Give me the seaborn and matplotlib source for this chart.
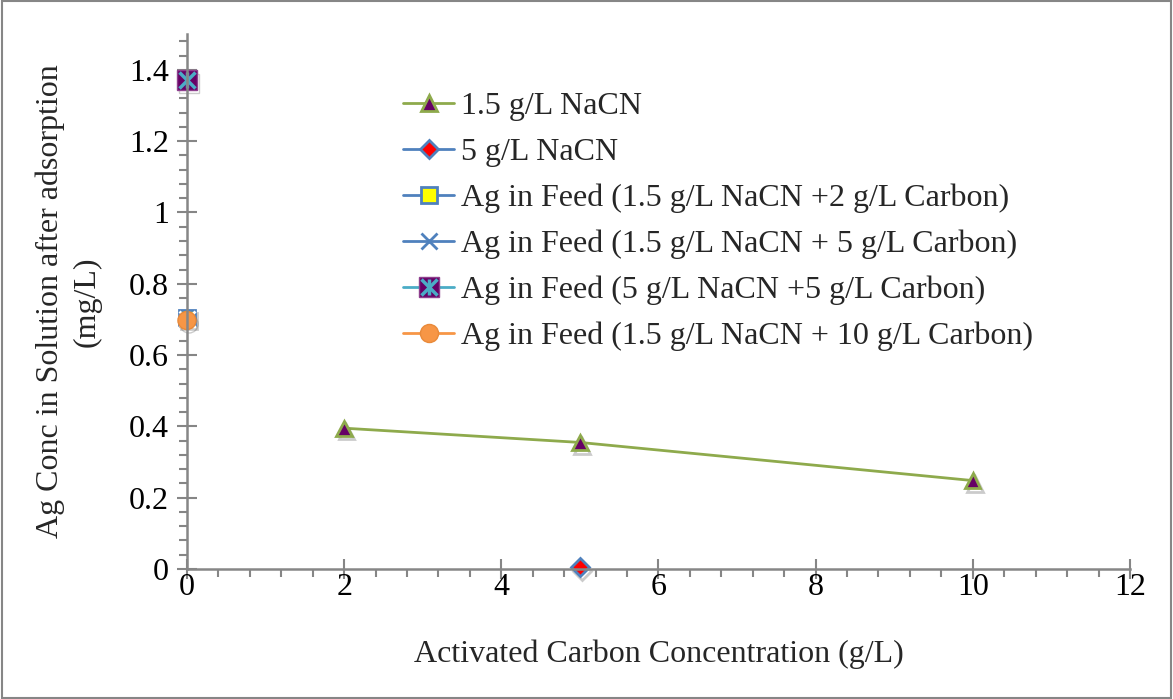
import matplotlib
matplotlib.use("Agg")
import matplotlib.pyplot as plt
import matplotlib.patheffects as pe
from matplotlib.lines import Line2D
from matplotlib.ticker import MultipleLocator, FormatStrFormatter
import seaborn as sns

# series
carbon_15 = [2, 5, 10]
conc_15 = [0.395, 0.355, 0.248]
carbon_5 = [5]
conc_5 = [0.005]
feed_x = [0]
feed_15_2 = [0.705]
feed_15_5 = [0.700]
feed_5_5 = [1.372]
feed_15_10 = [0.697]

labels = [
    "1.5 g/L NaCN",
    "5 g/L NaCN",
    "Ag in Feed (1.5 g/L NaCN +2 g/L Carbon)",
    "Ag in Feed (1.5 g/L NaCN + 5 g/L Carbon)",
    "Ag in Feed (5 g/L NaCN +5 g/L Carbon)",
    "Ag in Feed (1.5 g/L NaCN + 10 g/L Carbon)",
]

green = "#8EAA4C"
blue = "#4F81BD"
teal = "#4BACC6"
orange = "#F79646"
purple = "#660066"
FS = 23

sns.set_style("white")
plt.rcParams["font.family"] = ["Liberation Serif", "DejaVu Serif"]

fig = plt.figure(figsize=(11.73, 6.99), dpi=100)
ax = fig.add_axes([0.1594, 0.186, 0.8039, 0.765])

shadow = [pe.SimpleLineShadow(offset=(1.5, -2.5), shadow_color="#555555", alpha=0.3), pe.Normal()]

# the line alone, then markers with a soft shadow
sns.lineplot(x=carbon_15, y=conc_15, ax=ax, color=green, lw=2, legend=False)
sns.lineplot(x=carbon_15, y=conc_15, ax=ax, ls="none", marker="^", ms=11,
             markerfacecolor=purple, markeredgecolor=green, markeredgewidth=2,
             path_effects=shadow, clip_on=False, legend=False)
sns.lineplot(x=carbon_5, y=conc_5, ax=ax, ls="none", marker="D", ms=9,
             markerfacecolor="red", markeredgecolor=blue, markeredgewidth=2,
             path_effects=shadow, clip_on=False, legend=False)
sns.lineplot(x=feed_x, y=feed_15_2, ax=ax, ls="none", marker="s", ms=11,
             markerfacecolor="yellow", markeredgecolor=blue, markeredgewidth=2,
             path_effects=shadow, clip_on=False, legend=False)
sns.lineplot(x=feed_x, y=feed_15_5, ax=ax, ls="none", color=blue, marker="x", ms=11,
             markeredgewidth=2, clip_on=False, legend=False)
sns.lineplot(x=feed_x, y=feed_5_5, ax=ax, ls="none", marker="s", ms=14,
             markerfacecolor=purple, markeredgecolor="#8E3F8E", markeredgewidth=1,
             path_effects=shadow, clip_on=False, legend=False)
ax.plot(feed_x, feed_5_5, ls="none", marker="x", ms=11, mew=2.5, color=teal, clip_on=False)
ax.plot(feed_x, feed_5_5, ls="none", marker="|", ms=11, mew=2.5, color=teal, clip_on=False)
sns.lineplot(x=feed_x, y=feed_15_10, ax=ax, ls="none", marker="o", ms=13,
             markerfacecolor=orange, markeredgecolor="#E98A3A", markeredgewidth=1,
             path_effects=shadow, clip_on=False, legend=False)

ax.set_xlim(0, 12)
ax.set_ylim(0, 1.5)
ax.xaxis.set_major_locator(MultipleLocator(2))
ax.xaxis.set_minor_locator(MultipleLocator(0.4))
ax.yaxis.set_major_locator(MultipleLocator(0.2))
ax.yaxis.set_minor_locator(MultipleLocator(0.04))
ax.xaxis.set_major_formatter(FormatStrFormatter("%g"))
ax.yaxis.set_major_formatter(FormatStrFormatter("%g"))

for s in ["top", "right"]:
    ax.spines[s].set_visible(False)
for s in ["left", "bottom"]:
    ax.spines[s].set_color("#868686")
    ax.spines[s].set_linewidth(1.8)
ax.tick_params(which="major", direction="inout", length=14, width=1.5, color="#868686",
               labelsize=FS, bottom=True, left=True)
ax.tick_params(which="minor", direction="out", length=6, width=1.5, color="#868686",
               bottom=True, left=True)
ax.tick_params(axis="x", which="major", pad=-4)
ax.tick_params(axis="y", which="major", pad=6)
for lab in ax.get_xticklabels() + ax.get_yticklabels():
    lab.set_color("black")

ax.set_xlabel("Activated Carbon Concentration (g/L)", fontsize=FS, labelpad=27)
ax.set_ylabel("Ag Conc in Solution after adsorption\n(mg/L)", fontsize=FS, labelpad=20,
              linespacing=1.3)

handles = [
    Line2D([], [], color=green, lw=2, marker="^", ms=11, markerfacecolor=purple,
           markeredgecolor=green, markeredgewidth=2),
    Line2D([], [], color=blue, lw=2, marker="D", ms=9, markerfacecolor="red",
           markeredgecolor=blue, markeredgewidth=2),
    Line2D([], [], color=blue, lw=2, marker="s", ms=11, markerfacecolor="yellow",
           markeredgecolor=blue, markeredgewidth=2),
    Line2D([], [], color=blue, lw=2, marker="x", ms=11, markeredgewidth=2),
    (Line2D([], [], color=teal, lw=2, marker="s", ms=14, markerfacecolor=purple,
            markeredgecolor="#8E3F8E", markeredgewidth=1),
     Line2D([], [], ls="none", marker="x", ms=11, mew=2.5, color=teal),
     Line2D([], [], ls="none", marker="|", ms=11, mew=2.5, color=teal)),
    Line2D([], [], color=orange, lw=2, marker="o", ms=13, markerfacecolor=orange,
           markeredgecolor="#E98A3A", markeredgewidth=1),
]
fig.legend(handles, labels, loc="upper left", bbox_to_anchor=(0.330, 0.892),
           frameon=False, fontsize=FS, handlelength=1.6, handletextpad=0.2,
           labelspacing=0.52, borderpad=0)

fig.patches.append(plt.Rectangle((0.002, 0.002), 0.996, 0.996, transform=fig.transFigure,
                                 fill=False, edgecolor="#868686", lw=1.5))

fig.savefig("out.png", dpi=100)
